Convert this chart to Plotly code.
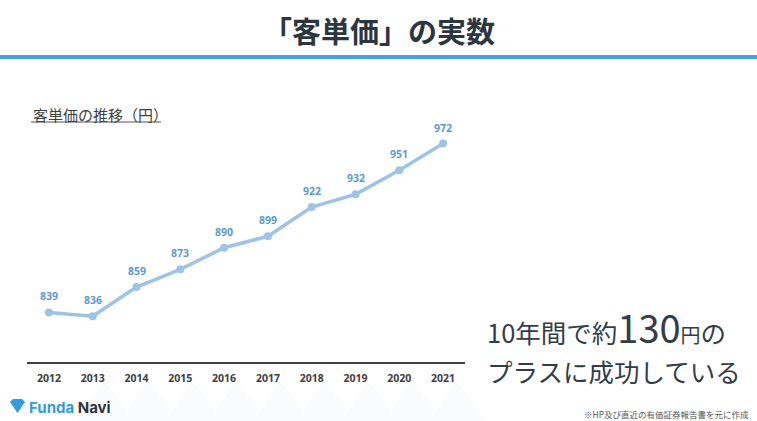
import plotly.graph_objects as go

years = ["2012", "2013", "2014", "2015", "2016", "2017", "2018", "2019", "2020", "2021"]
values = [839, 836, 859, 873, 890, 899, 922, 932, 951, 972]

W, H = 757, 421
FONT = "Noto Sans CJK JP"

def py(pixel_y):
    return 1 - pixel_y / H

def px(pixel_x):
    return pixel_x / W

fig = go.Figure()
fig.add_trace(go.Scatter(
    x=years, y=values, mode="lines+markers",
    line=dict(color="#9dc3e6", width=3.5),
    marker=dict(color="#9dc3e6", size=8),
    hoverinfo="skip", showlegend=False,
))

annotations = []
for i, v in enumerate(values):
    annotations.append(dict(
        x=i, y=v, xref="x", yref="y", text=f"<b>{v}</b>", showarrow=False,
        yshift=16, font=dict(family="Open Sans", size=10.5, color="#5b9bd5"),
    ))

annotations += [
    dict(x=0.5, y=py(30), xref="paper", yref="paper", text="<b>「客単価」の実数</b>",
         showarrow=False, font=dict(family=FONT, size=29, color="#2b3640"),
         xanchor="center", yanchor="middle"),
    dict(x=px(31), y=py(114), xref="paper", yref="paper", text="客単価の推移（円）",
         showarrow=False, font=dict(family=FONT, size=15, color="#404040"),
         xanchor="left", yanchor="middle"),
    dict(x=px(485), y=py(326), xref="paper", yref="paper",
         text="10年間で約<span style='font-size:38px'>130</span><span style='font-size:20px'>円</span>の",
         showarrow=False, font=dict(family=FONT, size=25.5, color="#333d47"),
         xanchor="left", yanchor="middle"),
    dict(x=px(485), y=py(370), xref="paper", yref="paper", text="プラスに成功している",
         showarrow=False, font=dict(family=FONT, size=25.5, color="#333d47"),
         xanchor="left", yanchor="middle"),
    dict(x=px(27), y=py(407), xref="paper", yref="paper",
         text="<b><span style='color:#2f9be0'>Funda</span> <span style='color:#2b3640'>Navi</span></b>",
         showarrow=False, font=dict(family="Inter", size=15),
         xanchor="left", yanchor="middle"),
    dict(x=px(751), y=py(414), xref="paper", yref="paper",
         text="※HP及び直近の有価証券報告書を元に作成",
         showarrow=False, font=dict(family=FONT, size=8.5, color="#555555"),
         xanchor="right", yanchor="middle"),
]

shapes = []
# faint background mountains
for i in range(9):
    cx = 105 + i * 44
    shapes.append(dict(type="path", xref="paper", yref="paper", layer="below",
                       path=f"M {px(cx-28)},{py(421)} L {px(cx-4)},{py(386)} Q {px(cx)},{py(382)} {px(cx+4)},{py(386)} L {px(cx+28)},{py(421)} Z",
                       fillcolor="#fafbfc", line=dict(width=0)))
shapes += [
    dict(type="rect", xref="paper", yref="paper", x0=0, x1=1, y0=py(59), y1=py(55),
         fillcolor="#41a5e8", line=dict(width=0)),
    dict(type="line", xref="paper", yref="paper", x0=px(31), x1=px(161), y0=py(122), y1=py(122),
         line=dict(color="#555555", width=1)),
    # logo icon
    dict(type="path", xref="paper", yref="paper",
         path=f"M {px(10)},{py(402)} L {px(13)},{py(399)} L {px(22)},{py(399)} L {px(25)},{py(402)} L {px(17.5)},{py(413)} Z",
         fillcolor="#2f9be0", line=dict(width=0)),
]

fig.update_layout(
    width=W, height=H, margin=dict(l=0, r=0, t=0, b=0),
    paper_bgcolor="white", plot_bgcolor="white",
    xaxis=dict(domain=[px(27), px(465)], type="category", range=[-0.5, 9.5],
               showgrid=False, zeroline=False, showline=True, linecolor="#404040", linewidth=2,
               ticks="", ticklabelstandoff=5,
               tickfont=dict(family="Open Sans", size=10.5, color="#404040", weight="bold")),
    yaxis=dict(domain=[py(362), py(108)], range=[800, 1000], visible=False),
    annotations=annotations, shapes=shapes,
)

fig.write_html("out.html")
